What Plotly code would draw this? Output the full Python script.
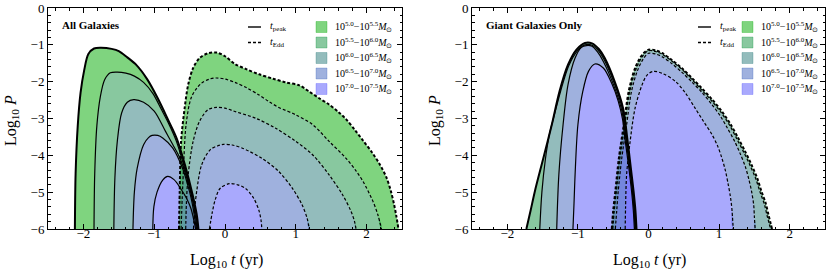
import plotly.graph_objects as go

# ---------------- data ----------------
MASS_BINS = ["10<sup>5.0</sup>−10<sup>5.5</sup>", "10<sup>5.5</sup>−10<sup>6.0</sup>",
             "10<sup>6.0</sup>−10<sup>6.5</sup>", "10<sup>6.5</sup>−10<sup>7.0</sup>",
             "10<sup>7.0</sup>−10<sup>7.5</sup>"]
BIN_COLORS = [(0, 169, 0), (17, 145, 63), (39, 121, 121), (63, 99, 189), (83, 83, 251)]
PANEL_TITLES = ["All Galaxies", "Giant Galaxies Only"]
X_TICKS = [-2, -1, 0, 1, 2]
X_TICK_TEXT = ["−2", "−1", "0", "1", "2"]
Y_TICKS = [0, -1, -2, -3, -4, -5, -6]
Y_TICK_TEXT = ["0", "−1", "−2", "−3", "−4", "−5", "−6"]

# All galaxies, t_peak boundaries (outer -> inner), bins 0..4
ALL_PEAK1_X = [-2.12, -2.11, -2.08, -2.04, -1.99, -1.93, -1.85, -1.75, -1.60, -1.50, -1.38, -1.25, -1.10, -0.95, -0.80, -0.68, -0.56, -0.46, -0.40, -0.375]
ALL_PEAK1_Y = [-6.0, -4.5, -3.2, -2.3, -1.7, -1.25, -1.10, -1.08, -1.11, -1.17, -1.34, -1.55, -1.93, -2.45, -3.05, -3.55, -4.30, -5.05, -5.6, -6.0]
ALL_PEAK2_X = [-1.85, -1.84, -1.81, -1.76, -1.70, -1.62, -1.52, -1.40, -1.28, -1.15, -1.02, -0.90, -0.80, -0.69, -0.57, -0.47, -0.41, -0.385]
ALL_PEAK2_Y = [-6.0, -4.5, -3.2, -2.4, -1.95, -1.76, -1.74, -1.77, -1.85, -2.02, -2.32, -2.75, -3.12, -3.60, -4.35, -5.05, -5.6, -6.0]
ALL_PEAK3_X = [-1.57, -1.555, -1.52, -1.46, -1.38, -1.29, -1.15, -1.00, -0.84, -0.74, -0.65, -0.55, -0.47, -0.42, -0.395]
ALL_PEAK3_Y = [-6.0, -4.6, -3.6, -2.85, -2.56, -2.49, -2.56, -2.80, -3.35, -3.70, -4.02, -4.55, -5.12, -5.62, -6.0]
ALL_PEAK4_X = [-1.30, -1.28, -1.24, -1.15, -1.08, -1.03, -0.95, -0.88, -0.74, -0.60, -0.52, -0.48, -0.44, -0.405]
ALL_PEAK4_Y = [-6.0, -5.0, -4.35, -3.71, -3.52, -3.46, -3.46, -3.53, -3.80, -4.35, -4.85, -5.15, -5.55, -6.0]
ALL_PEAK5_X = [-1.02, -1.005, -0.96, -0.88, -0.81, -0.72, -0.62, -0.54, -0.48, -0.445, -0.415]
ALL_PEAK5_Y = [-6.0, -5.4, -5.0, -4.67, -4.57, -4.66, -4.92, -5.18, -5.45, -5.72, -6.0]

# All galaxies, t_Edd boundaries (outer -> inner), bins 0..4
ALL_EDD1_X = [-0.65, -0.64, -0.62, -0.57, -0.52, -0.45, -0.36, -0.24, -0.12, 0.00, 0.14, 0.30, 0.48, 0.68, 0.86, 1.05, 1.19, 1.33, 1.47, 1.60, 1.71, 1.83, 1.95, 2.08, 2.19, 2.28, 2.34, 2.39, 2.42, 2.45]
ALL_EDD1_Y = [-6.0, -5.0, -3.62, -2.72, -2.08, -1.63, -1.36, -1.23, -1.21, -1.31, -1.52, -1.66, -1.80, -1.92, -2.02, -2.10, -2.27, -2.45, -2.62, -2.82, -3.02, -3.30, -3.60, -3.93, -4.26, -4.60, -4.95, -5.35, -5.65, -6.0]
ALL_EDD2_X = [-0.62, -0.605, -0.59, -0.55, -0.48, -0.40, -0.33, -0.22, -0.12, 0.00, 0.14, 0.30, 0.48, 0.62, 0.76, 1.00, 1.24, 1.47, 1.71, 1.85, 1.95, 2.09, 2.16, 2.21]
ALL_EDD2_Y = [-6.0, -5.2, -4.53, -3.17, -2.45, -2.18, -2.04, -1.93, -1.90, -1.93, -2.02, -2.16, -2.36, -2.54, -2.70, -2.90, -3.17, -3.62, -4.08, -4.42, -4.71, -5.25, -5.62, -6.0]
ALL_EDD3_X = [-0.555, -0.545, -0.52, -0.45, -0.36, -0.24, -0.12, 0.00, 0.14, 0.43, 0.71, 1.00, 1.24, 1.47, 1.66, 1.78, 1.83, 1.85]
ALL_EDD3_Y = [-6.0, -5.3, -4.53, -3.62, -3.08, -2.76, -2.70, -2.72, -2.81, -2.99, -3.26, -3.62, -3.99, -4.53, -5.07, -5.52, -5.8, -6.0]
ALL_EDD4_X = [-0.445, -0.43, -0.40, -0.33, -0.21, -0.10, -0.02, 0.10, 0.24, 0.52, 0.76, 0.95, 1.09, 1.16, 1.19]
ALL_EDD4_Y = [-6.0, -5.5, -4.98, -4.26, -3.85, -3.74, -3.70, -3.72, -3.80, -4.08, -4.44, -4.89, -5.35, -5.71, -6.0]
ALL_EDD5_X = [-0.22, -0.18, -0.14, -0.07, 0.06, 0.18, 0.29, 0.40, 0.48, 0.51, 0.52]
ALL_EDD5_Y = [-6.0, -5.55, -5.22, -4.90, -4.77, -4.80, -4.90, -5.15, -5.50, -5.78, -6.0]

# Giant galaxies, t_peak boundaries (outer -> inner), bins 1..4
GIANT_PEAK1_X = [-1.73, -1.67, -1.61, -1.49, -1.37, -1.26, -1.14, -1.02, -0.90, -0.80, -0.70, -0.62, -0.48, -0.36, -0.30, -0.25, -0.21, -0.185, -0.17]
GIANT_PEAK1_Y = [-6.0, -5.5, -4.98, -4.08, -3.17, -2.26, -1.54, -1.13, -0.95, -0.96, -1.12, -1.36, -1.99, -2.72, -3.55, -4.35, -5.0, -5.5, -6.0]
GIANT_PEAK2_X = [-1.54, -1.51, -1.46, -1.40, -1.34, -1.245, -1.13, -1.01, -0.90, -0.80, -0.71, -0.63, -0.49, -0.37, -0.31, -0.26, -0.22, -0.195, -0.18]
GIANT_PEAK2_Y = [-6.0, -5.0, -4.1, -3.4, -2.95, -2.26, -1.57, -1.17, -1.00, -1.01, -1.16, -1.40, -2.02, -2.74, -3.55, -4.30, -4.95, -5.5, -6.0]
GIANT_PEAK3_X = [-1.30, -1.27, -1.21, -1.14, -1.04, -0.95, -0.88, -0.80, -0.72, -0.64, -0.50, -0.38, -0.32, -0.27, -0.23, -0.205, -0.19]
GIANT_PEAK3_Y = [-6.0, -4.53, -3.17, -2.08, -1.36, -1.07, -1.02, -1.04, -1.20, -1.45, -2.06, -2.77, -3.56, -4.30, -4.95, -5.5, -6.0]
GIANT_PEAK4_X = [-1.07, -1.055, -1.04, -1.0, -0.93, -0.85, -0.76, -0.64, -0.52, -0.43, -0.37, -0.33, -0.28, -0.24, -0.215, -0.20]
GIANT_PEAK4_Y = [-6.0, -5.3, -4.53, -3.17, -2.26, -1.72, -1.52, -1.63, -2.05, -2.52, -3.0, -3.6, -4.32, -4.97, -5.5, -6.0]

# Giant galaxies, t_Edd boundaries (outer -> inner), bins 1..4
GIANT_EDD1_X = [-0.52, -0.50, -0.47, -0.42, -0.35, -0.28, -0.19, -0.09, 0.00, 0.10, 0.19, 0.33, 0.47, 0.61, 0.75, 0.90, 1.04, 1.16, 1.27, 1.37, 1.46, 1.54, 1.60, 1.66, 1.70, 1.73, 1.75]
GIANT_EDD1_Y = [-6.0, -5.5, -4.98, -4.08, -3.17, -2.26, -1.63, -1.27, -1.13, -1.15, -1.22, -1.41, -1.63, -1.89, -2.17, -2.48, -2.81, -3.15, -3.53, -3.90, -4.26, -4.62, -4.98, -5.30, -5.62, -5.85, -6.0]
GIANT_EDD2_X = [-0.505, -0.485, -0.455, -0.405, -0.335, -0.265, -0.175, -0.08, 0.00, 0.10, 0.19, 0.33, 0.47, 0.60, 0.735, 0.885, 1.025, 1.145, 1.25, 1.35, 1.44, 1.52, 1.58, 1.64, 1.68, 1.71, 1.73]
GIANT_EDD2_Y = [-6.0, -5.5, -4.98, -4.08, -3.17, -2.26, -1.65, -1.30, -1.16, -1.18, -1.25, -1.44, -1.66, -1.91, -2.19, -2.50, -2.83, -3.17, -3.55, -3.92, -4.28, -4.64, -5.0, -5.32, -5.64, -5.86, -6.0]
GIANT_EDD3_X = [-0.47, -0.45, -0.43, -0.38, -0.31, -0.24, -0.16, -0.07, 0.00, 0.10, 0.19, 0.33, 0.47, 0.61, 0.75, 0.89, 1.02, 1.12, 1.22, 1.30, 1.37, 1.42, 1.46, 1.49, 1.50, 1.51]
GIANT_EDD3_Y = [-6.0, -5.5, -5.0, -4.1, -3.17, -2.26, -1.72, -1.37, -1.23, -1.25, -1.32, -1.51, -1.74, -2.00, -2.28, -2.60, -2.94, -3.27, -3.62, -3.96, -4.30, -4.64, -4.98, -5.35, -5.68, -6.0]
GIANT_EDD4_X = [-0.33, -0.325, -0.31, -0.26, -0.19, -0.09, -0.02, 0.07, 0.20, 0.38, 0.52, 0.66, 0.78, 0.90, 0.98, 1.04, 1.09, 1.13, 1.16, 1.18, 1.20]
GIANT_EDD4_Y = [-6.0, -5.43, -4.53, -3.62, -2.72, -2.08, -1.82, -1.72, -1.78, -1.99, -2.30, -2.72, -3.08, -3.44, -3.75, -4.08, -4.42, -4.80, -5.12, -5.43, -6.0]

FILL_ALPHA = 0.5
FONT = "Liberation Serif"

# ---------------- figure ----------------
W, H = 830, 275
X1 = [48, 402]
X2 = [472, 825]
YTOP, YBOT = 8, 229

fig = go.Figure()


def rgba(c, a):
    return "rgba(%d,%d,%d,%.3f)" % (c[0], c[1], c[2], a)


def add_family(curves, bins, xa, ya):
    # filled bands between consecutive boundaries
    for k, (cx, cy) in enumerate(curves):
        if k + 1 < len(curves):
            nx, ny = curves[k + 1]
            px = cx + nx[::-1]
            py = cy + ny[::-1]
        else:
            px, py = cx, cy
        fig.add_trace(go.Scatter(x=px, y=py, mode="lines", fill="toself",
                                 fillcolor=rgba(BIN_COLORS[bins[k]], FILL_ALPHA),
                                 line=dict(width=0, shape="spline", smoothing=0.9),
                                 xaxis=xa, yaxis=ya, hoverinfo="skip", showlegend=False))


def add_lines(curves, xa, ya, dashed):
    for k, (cx, cy) in enumerate(curves):
        w = 2.0 if k == 0 else 1.2
        fig.add_trace(go.Scatter(x=cx, y=cy, mode="lines",
                                 line=dict(color="black", width=w, shape="spline", smoothing=0.9,
                                           dash="3px,2px" if dashed else "solid"),
                                 xaxis=xa, yaxis=ya, hoverinfo="skip", showlegend=False))


all_peak = [(ALL_PEAK1_X, ALL_PEAK1_Y), (ALL_PEAK2_X, ALL_PEAK2_Y), (ALL_PEAK3_X, ALL_PEAK3_Y),
            (ALL_PEAK4_X, ALL_PEAK4_Y), (ALL_PEAK5_X, ALL_PEAK5_Y)]
all_edd = [(ALL_EDD1_X, ALL_EDD1_Y), (ALL_EDD2_X, ALL_EDD2_Y), (ALL_EDD3_X, ALL_EDD3_Y),
           (ALL_EDD4_X, ALL_EDD4_Y), (ALL_EDD5_X, ALL_EDD5_Y)]
giant_peak = [(GIANT_PEAK1_X, GIANT_PEAK1_Y), (GIANT_PEAK2_X, GIANT_PEAK2_Y),
              (GIANT_PEAK3_X, GIANT_PEAK3_Y), (GIANT_PEAK4_X, GIANT_PEAK4_Y)]
giant_edd = [(GIANT_EDD1_X, GIANT_EDD1_Y), (GIANT_EDD2_X, GIANT_EDD2_Y),
             (GIANT_EDD3_X, GIANT_EDD3_Y), (GIANT_EDD4_X, GIANT_EDD4_Y)]

add_family(all_peak, [0, 1, 2, 3, 4], "x", "y")
add_family(all_edd, [0, 1, 2, 3, 4], "x", "y")
add_lines(all_peak, "x", "y", False)
add_lines(all_edd, "x", "y", True)

add_family(giant_peak, [1, 2, 3, 4], "x2", "y2")
add_family(giant_edd, [1, 2, 3, 4], "x2", "y2")
add_lines(giant_peak, "x2", "y2", False)
add_lines(giant_edd, "x2", "y2", True)


def px2paper_x(p):
    return p / W


def px2paper_y(p):
    return 1 - p / H


axis_common = dict(showline=True, linecolor="black", linewidth=1, mirror="allticks",
                   ticks="inside", ticklen=5, tickwidth=1, tickcolor="black",
                   showgrid=False, zeroline=False,
                   tickfont=dict(family=FONT, size=13, color="black"),
                   minor=dict(ticks="inside", ticklen=2.5, tickwidth=0.8, tickcolor="black", dtick=0.2,
                              showgrid=False))

ydom = [px2paper_y(YBOT), px2paper_y(YTOP)]
fig.update_layout(
    width=W, height=H, margin=dict(l=0, r=0, t=0, b=0),
    paper_bgcolor="white", plot_bgcolor="white", showlegend=False,
    font=dict(family=FONT, color="black"),
    xaxis=dict(domain=[px2paper_x(X1[0]), px2paper_x(X1[1])], range=[-2.5, 2.5],
               tickvals=X_TICKS, ticktext=X_TICK_TEXT, anchor="y", automargin=False,
               ticklabelstandoff=-8, **axis_common),
    yaxis=dict(domain=ydom, range=[-6, 0], tickvals=Y_TICKS, ticktext=Y_TICK_TEXT,
               anchor="x", automargin=False, **axis_common),
    xaxis2=dict(domain=[px2paper_x(X2[0]), px2paper_x(X2[1])], range=[-2.5, 2.5],
                tickvals=X_TICKS, ticktext=X_TICK_TEXT, anchor="y2", automargin=False,
                ticklabelstandoff=-8, **axis_common),
    yaxis2=dict(domain=ydom, range=[-6, 0], tickvals=Y_TICKS, ticktext=Y_TICK_TEXT,
                anchor="x2", automargin=False, **axis_common),
)

ann = []
shapes = []
for i, (xl, xr) in enumerate([X1, X2]):
    xc = (xl + xr) / 2
    # axis titles
    ann.append(dict(text="Log<sub>10</sub> <i>t</i> (yr)", x=px2paper_x(xc + 1), y=px2paper_y(260),
                    xref="paper", yref="paper", showarrow=False, xanchor="center", yanchor="middle",
                    font=dict(family=FONT, size=16)))
    ann.append(dict(text="Log<sub>10</sub> <i>P</i>", x=px2paper_x(xl - 36), y=px2paper_y(121),
                    xref="paper", yref="paper", showarrow=False, xanchor="center", yanchor="middle",
                    textangle=-90, font=dict(family=FONT, size=16)))
    # panel title
    ann.append(dict(text="<b>%s</b>" % PANEL_TITLES[i], x=px2paper_x(xl + 12), y=px2paper_y(25),
                    xref="paper", yref="paper", showarrow=False, xanchor="left", yanchor="middle",
                    font=dict(family=FONT, size=11)))
    # legend
    lx = xr - 154 if i == 0 else xr - 127
    sx = xr - 86 if i == 0 else xr - 83
    rows = [27, 42.5, 58, 73.5, 89]
    for j, (lab, dash) in enumerate([("<i>t</i><sub>peak</sub>", "solid"), ("<i>t</i><sub>Edd</sub>", "dot")]):
        shapes.append(dict(type="line", xref="paper", yref="paper",
                           x0=px2paper_x(lx), x1=px2paper_x(lx + 13),
                           y0=px2paper_y(rows[j]), y1=px2paper_y(rows[j]),
                           line=dict(color="black", width=1.4 if dash == "solid" else 1.6,
                                     dash="solid" if dash == "solid" else "3px,2px")))
        ann.append(dict(text=lab, x=px2paper_x(lx + 20), y=px2paper_y(rows[j]),
                        xref="paper", yref="paper", showarrow=False, xanchor="left", yanchor="middle",
                        font=dict(family=FONT, size=10)))
    for j in range(5):
        shapes.append(dict(type="rect", xref="paper", yref="paper",
                           x0=px2paper_x(sx), x1=px2paper_x(sx + 11),
                           y0=px2paper_y(rows[j] - 5.5), y1=px2paper_y(rows[j] + 5.5),
                           fillcolor=rgba(BIN_COLORS[j], FILL_ALPHA),
                           line=dict(color=rgba(BIN_COLORS[j], 0.3), width=1)))
        ann.append(dict(text=MASS_BINS[j] + "<i>M</i><sub>⊙</sub>", x=px2paper_x(sx + 17),
                        y=px2paper_y(rows[j]), xref="paper", yref="paper", showarrow=False,
                        xanchor="left", yanchor="middle", font=dict(family=FONT, size=10)))

fig.update_layout(annotations=ann, shapes=shapes)
fig.write_html("out.html", config={"displayModeBar": False},
               post_script="document.body.style.margin='0';")
